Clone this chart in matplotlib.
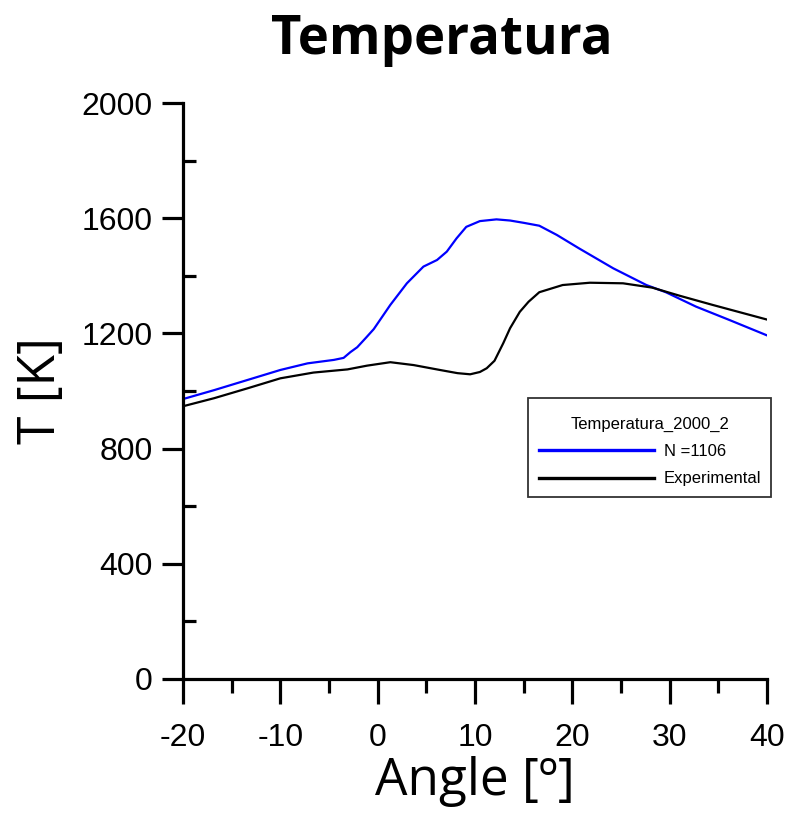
import numpy as np
import matplotlib.pyplot as plt
from matplotlib.ticker import MultipleLocator

plt.rcParams["axes.unicode_minus"] = False

# ------------------------------------------------------------------------------
# Data
# ------------------------------------------------------------------------------
angle_sim = [-20, -16.8, -13.4, -10.0, -7.2, -4.5, -3.5, -2.8, -2.1, -1.2, -0.4,
             1.3, 3.0, 4.7, 6.1, 7.1, 8.1, 9.1, 10.5, 12.2, 13.6, 15.0, 16.6,
             18.4, 20.7, 24.2, 27.6, 29.6, 32.7, 36.1, 40]
temp_sim = [972, 1003, 1038, 1073, 1096, 1108, 1115, 1135, 1152, 1185, 1215,
            1299, 1374, 1432, 1455, 1484, 1530, 1570, 1590, 1596, 1592, 1584, 1574,
            1542, 1495, 1426, 1368, 1343, 1293, 1247, 1193]

angle_exp = [-20, -16.8, -13.4, -10.0, -6.6, -3.1, -1.1, 1.3, 3.7, 6.4, 8.2, 9.5,
             10.5, 11.2, 12.0, 12.9, 13.6, 14.6, 15.5, 16.6, 19.0, 21.8, 25.2,
             28.2, 31.0, 34.4, 40]
temp_exp = [947, 975, 1009, 1044, 1064, 1075, 1088, 1100, 1090, 1073, 1062, 1058,
            1066, 1079, 1105, 1166, 1218, 1275, 1310, 1343, 1368, 1376, 1374,
            1359, 1331, 1299, 1248]

# ------------------------------------------------------------------------------
# Plot
# ------------------------------------------------------------------------------
fig = plt.figure(figsize=(7.9, 8.21), dpi=100)
ax = fig.add_axes([0.2316, 0.173, 0.7394, 0.7015])

ax.plot(angle_sim, temp_sim, color="blue", lw=1.6, solid_joinstyle="round",
        label="N =1106")
ax.plot(angle_exp, temp_exp, color="black", lw=1.6, solid_joinstyle="round",
        label="Experimental")

ax.set_xlim(-20, 40)
ax.set_ylim(0, 2000)
ax.xaxis.set_major_locator(MultipleLocator(10))
ax.xaxis.set_minor_locator(MultipleLocator(5))
ax.yaxis.set_major_locator(MultipleLocator(400))
ax.yaxis.set_minor_locator(MultipleLocator(200))

for s in ["top", "right"]:
    ax.spines[s].set_visible(False)
for s in ["left", "bottom"]:
    ax.spines[s].set_linewidth(2.3)

ax.tick_params(axis="both", which="major", direction="out", width=2.3,
               labelsize=23)
ax.tick_params(axis="x", which="major", length=18, pad=14)
ax.tick_params(axis="y", which="major", length=15, pad=7)
ax.tick_params(axis="x", which="minor", direction="out", length=10, width=2.3)
ax.tick_params(axis="y", which="minor", direction="in", length=9, width=2.3)
for lab in ax.get_xticklabels() + ax.get_yticklabels():
    lab.set_fontfamily("Liberation Sans")

ax.set_xlabel("Angle [º]", fontsize=37, family="Open Sans", labelpad=2)
ax.set_ylabel("T [K]", fontsize=37, family="Open Sans", labelpad=10)
fig.text(442 / 790, 1 - 54 / 821, "Temperatura", fontsize=38, weight="bold",
         family="Open Sans", ha="center", va="baseline")

# leading empty line pushes the legend title down a little inside the frame
leg = ax.legend(title="\nTemperatura_2000_2", loc="upper left",
                bbox_to_anchor=(0.591, 0.488), frameon=True, fancybox=False,
                edgecolor="black", handlelength=6.9, handletextpad=0.6,
                labelspacing=0.74, borderpad=0.62, borderaxespad=0,
                prop={"family": "Liberation Sans", "size": 12},
                title_fontproperties={"family": "Liberation Sans", "size": 12})
leg.get_title().set_linespacing(0.45)
leg.get_frame().set_linewidth(1.3)
for line in leg.get_lines():
    line.set_linewidth(2.4)

plt.savefig("out.png", dpi=100)
